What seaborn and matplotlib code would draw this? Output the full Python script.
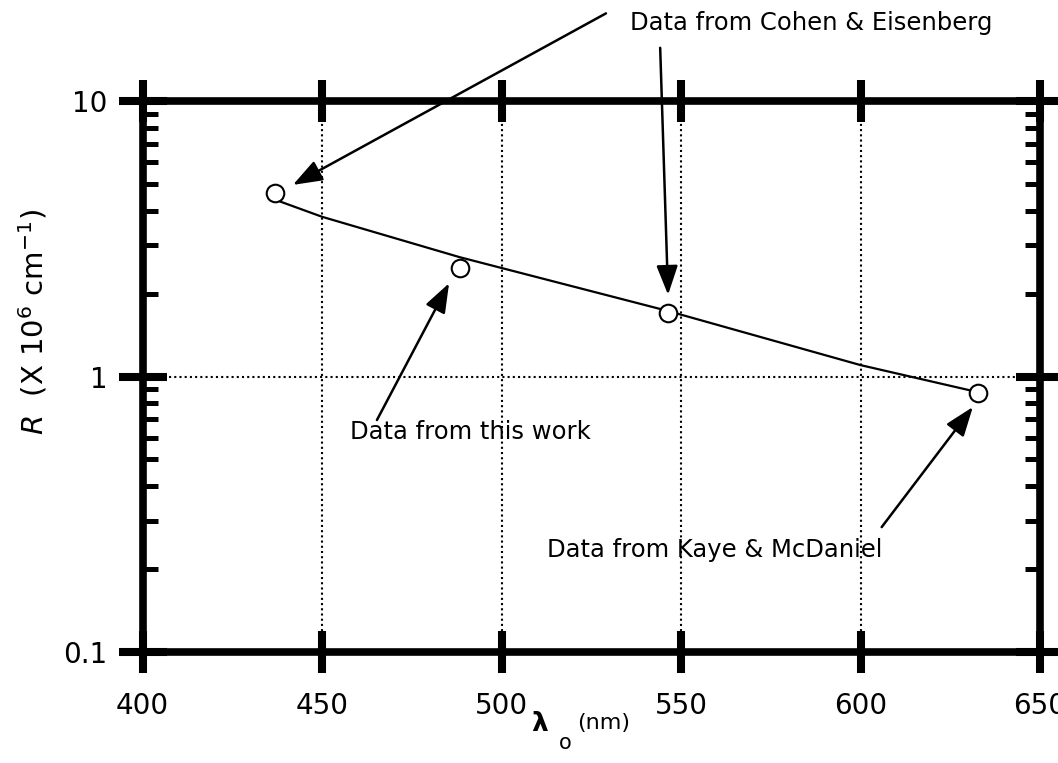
import matplotlib
matplotlib.use("Agg")
import matplotlib.pyplot as plt
import matplotlib.ticker as mticker
import seaborn as sns
import pandas as pd

# measured points
wavelength_nm = [437, 488.4, 546.3, 632.8]
R_values = [4.65, 2.47, 1.70, 0.874]

# fitted curve
fit_x = [437.2, 450, 488.4, 546.3, 600, 632.1]
fit_y = [4.37, 3.80, 2.71, 1.73, 1.10, 0.881]

x_ticks = [400, 450, 500, 550, 600, 650]
y_ticks = [0.1, 1, 10]
y_tick_labels = ["0.1", "1", "10"]

sns.set_theme(style="white")
plt.rcParams['font.family'] = ['DejaVu Sans']
plt.rcParams['text.color'] = 'black'
plt.rcParams['axes.labelcolor'] = 'black'
plt.rcParams['xtick.color'] = 'black'
plt.rcParams['ytick.color'] = 'black'

fig = plt.figure(figsize=(10.58, 7.63), dpi=100)
ax = fig.add_axes([142.5 / 1058, 1 - 652 / 763, 897.5 / 1058, 551 / 763])

df_pts = pd.DataFrame({"x": wavelength_nm, "y": R_values})
df_fit = pd.DataFrame({"x": fit_x, "y": fit_y})

sns.lineplot(data=df_fit, x="x", y="y", ax=ax, color="black", lw=1.6, sort=True, zorder=3)
sns.scatterplot(data=df_pts, x="x", y="y", ax=ax, marker="o", s=160,
                facecolor="white", edgecolor="black", linewidth=1.5, zorder=4)

ax.set_yscale("log")
ax.set_xlim(400, 650)
ax.set_ylim(0.1, 10)
ax.set_xticks(x_ticks)
ax.set_xticklabels([str(v) for v in x_ticks])
ax.set_yticks(y_ticks)
ax.set_yticklabels(y_tick_labels)
ax.yaxis.set_minor_locator(mticker.LogLocator(base=10, subs=range(2, 10)))
ax.yaxis.set_minor_formatter(mticker.NullFormatter())
ax.xaxis.set_minor_locator(mticker.NullLocator())

ax.grid(False)
for xv in x_ticks[1:-1]:
    ax.axvline(xv, color="black", lw=1.5, ls=(0, (1, 1.5)), zorder=1)
ax.axhline(1, color="black", lw=1.5, ls=(0, (1, 1.5)), zorder=1)

for sp in ax.spines.values():
    sp.set_linewidth(5.5)
    sp.set_color("black")
    sp.set_visible(True)

ax.tick_params(axis="x", which="major", direction="inout", length=30, width=5.8,
               top=True, bottom=True, labelsize=20, pad=13.5, colors="black")
ax.tick_params(axis="y", which="major", direction="inout", length=34, width=5.8,
               left=True, right=True, labelsize=20, pad=8, colors="black")
ax.tick_params(axis="y", which="minor", direction="in", length=11, width=3.6,
               left=True, right=True, colors="black")

ax.set_xlabel("")
ax.set_ylabel("")

# axis labels
fig.text(549 / 1058, 1 - 724 / 763, r"$\boldsymbol{\lambda}$", fontsize=19, ha="right", va="center")
fig.text(565 / 1058, 1 - 743 / 763, "o", fontsize=15, ha="center", va="center")
fig.text(577 / 1058, 1 - 723 / 763, "(nm)", fontsize=16, ha="left", va="center")
fig.text(33 / 1058, 1 - 322 / 763, r"$\mathit{R}$  (X 10$^{6}$ cm$^{-1}$)", fontsize=21,
         rotation=90, ha="center", va="center")

arrow_kw = dict(arrowstyle="-|>,head_length=0.9,head_width=0.33", color="black",
                lw=1.8, mutation_scale=20, shrinkA=0, shrinkB=0)

# (tip, tail) pairs in data coordinates
arrows = [((441.9, 4.96), (529.1, 20.8)),
          ((546.4, 1.98), (544.2, 15.6)),
          ((485.4, 2.18), (465.3, 0.695)),
          ((631.3, 0.775), (605.9, 0.284))]
for tip, tail in arrows:
    ax.annotate("", xy=tip, xytext=tail, xycoords="data", textcoords="data",
                arrowprops=arrow_kw, annotation_clip=False)

notes = [("Data from Cohen & Eisenberg", 535.8, 19.2),
         ("Data from this work", 457.8, 0.629),
         ("Data from Kaye & McDaniel", 512.7, 0.234)]
for txt, xv, yv in notes:
    ax.text(xv, yv, txt, fontsize=17.5, ha="left", va="center", clip_on=False)

fig.savefig("out.png", dpi=100)
